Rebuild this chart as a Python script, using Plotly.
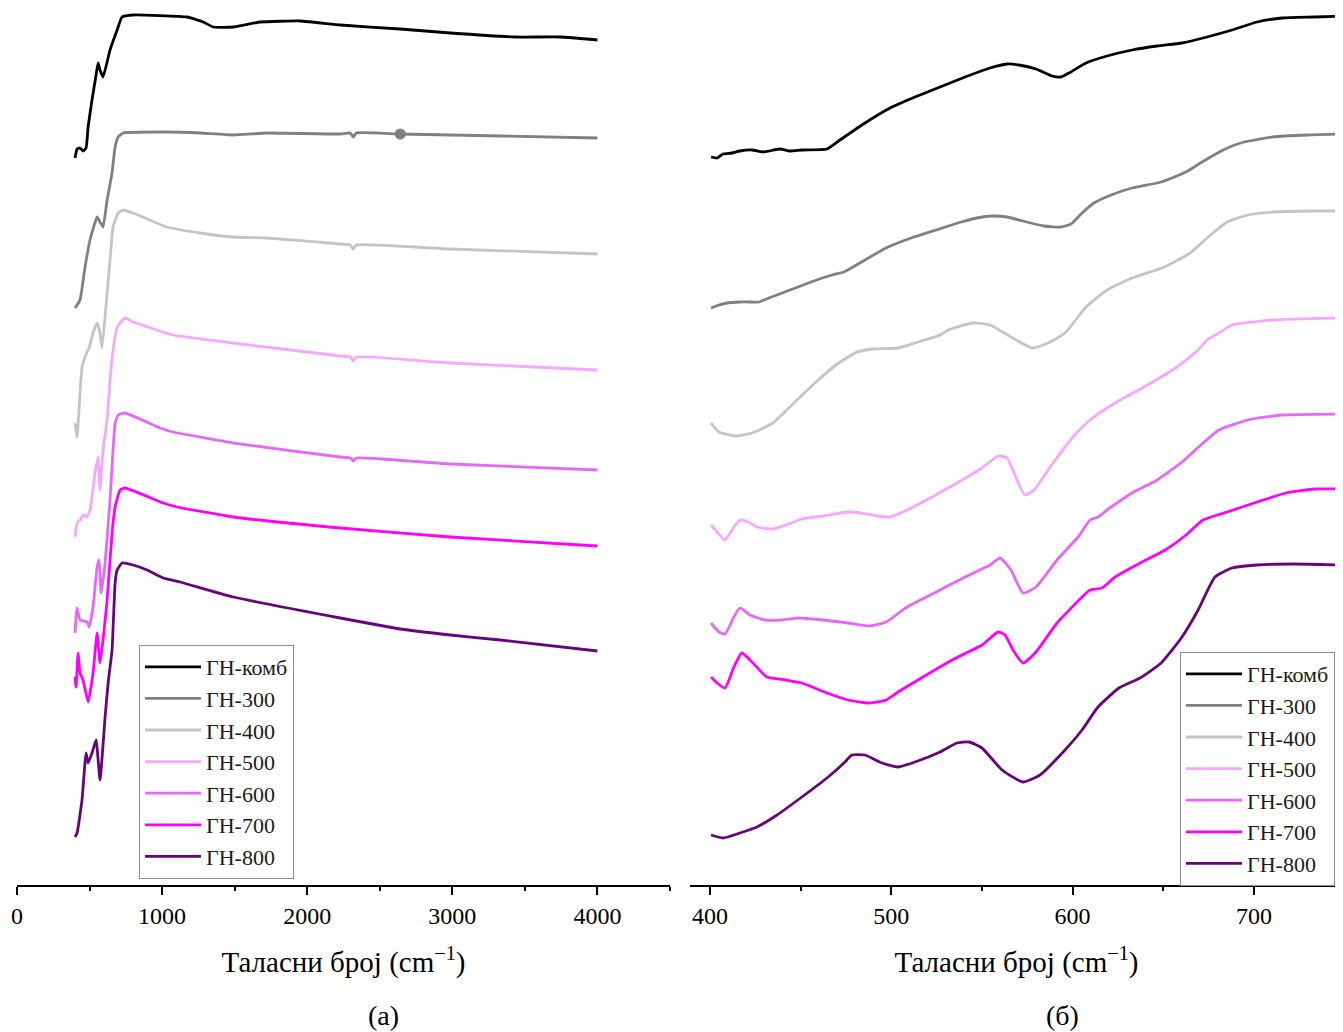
import plotly.graph_objects as go

# ---------------- DATA ----------------
series_names = ["ГН-комб", "ГН-300", "ГН-400", "ГН-500", "ГН-600", "ГН-700", "ГН-800"]

# Panel (a): full range, wavenumber (cm-1) and offset transmittance (a.u.)
wn_a_komb = [400, 414, 434, 455, 476, 490, 517, 545, 559, 572, 593, 641, 690, 724, 800, 1172, 1283, 1352, 1490, 1676, 1952, 2228, 2641, 2986, 3434, 3745, 4000]
tr_a_komb = [727, 736, 737, 734, 737, 758, 785, 810, 822, 815, 808, 835, 855, 868, 870, 868, 863, 858, 858, 863, 864, 860, 856, 852, 848, 848, 845]

wn_a_300 = [400, 434, 469, 503, 552, 572, 593, 621, 655, 676, 697, 731, 1034, 1262, 1490, 1724, 2228, 2297, 2317, 2338, 2641, 3331, 4000]
tr_a_300 = [577, 585, 618, 645, 668, 663, 658, 685, 712, 738, 748, 752, 753, 752, 750, 752, 751, 752, 748, 752, 751, 749, 747]

wn_a_400 = [400, 414, 448, 483, 497, 524, 552, 572, 586, 621, 641, 662, 697, 731, 800, 1034, 1262, 1490, 1724, 2228, 2297, 2317, 2338, 2986, 4000]
tr_a_400 = [462, 448, 518, 533, 537, 552, 562, 552, 537, 592, 625, 658, 672, 675, 672, 658, 652, 648, 647, 641, 640, 636, 640, 636, 631]

wn_a_500 = [400, 414, 434, 455, 483, 503, 538, 559, 572, 593, 621, 641, 662, 690, 745, 800, 1076, 1490, 2228, 2297, 2317, 2338, 2986, 4000]
tr_a_500 = [348, 362, 365, 370, 368, 375, 412, 428, 395, 435, 465, 505, 535, 558, 567, 563, 550, 542, 529, 528, 524, 528, 522, 515]

wn_a_600 = [400, 414, 434, 483, 497, 524, 552, 566, 579, 607, 641, 676, 697, 745, 986, 1076, 1490, 2228, 2297, 2317, 2338, 2986, 4000]
tr_a_600 = [252, 277, 265, 263, 258, 278, 318, 325, 292, 322, 385, 462, 470, 472, 457, 453, 442, 428, 427, 424, 427, 421, 415]

wn_a_700 = [400, 407, 421, 434, 455, 490, 524, 552, 572, 593, 621, 655, 676, 710, 745, 1007, 1103, 1490, 2228, 2986, 4000]
tr_a_700 = [208, 198, 232, 212, 205, 183, 212, 252, 222, 245, 285, 352, 378, 395, 397, 382, 378, 368, 357, 348, 339]

wn_a_800 = [400, 414, 448, 476, 490, 517, 545, 572, 607, 628, 655, 676, 690, 724, 800, 897, 1007, 1124, 1490, 2228, 2641, 2986, 3331, 4000]
tr_a_800 = [48, 52, 85, 132, 122, 132, 145, 105, 168, 202, 235, 302, 315, 322, 320, 315, 307, 303, 288, 267, 256, 250, 245, 234]

# single plotted point visible on the ГН-300 trace in panel (a)
wn_a_300_point = [2641]
tr_a_300_point = [751]

# Panel (б): 400-750 cm-1 region
wn_b_komb = [400.6, 403.9, 407.2, 412.1, 416.5, 423.2, 429.2, 438.6, 444.1, 450.7, 464.5, 471.7, 485.5, 499.3, 513.1, 526.9, 540.7, 554.4, 563.8, 570.4, 579.8, 588.6, 593.6, 598.0, 607.4, 619.0, 632.8, 646.6, 660.3, 674.1, 687.9, 701.7, 715.5, 733.7, 749.1]
tr_b_komb = [728, 727, 731, 732, 734, 735, 733, 736, 734, 735, 736, 745, 762, 777, 788, 798, 808, 817, 821, 820, 816, 809, 808, 812, 822, 829, 835, 839, 842, 848, 855, 863, 867, 868, 869]

wn_b_300 = [400.6, 405.0, 409.4, 416.5, 423.2, 427.0, 432.5, 444.1, 455.7, 467.3, 473.9, 485.5, 497.1, 510.9, 524.7, 538.5, 550.0, 556.6, 563.8, 572.6, 584.2, 593.6, 599.1, 605.2, 611.8, 621.2, 632.8, 648.8, 662.5, 671.4, 683.0, 694.5, 710.5, 729.3, 749.1]
tr_b_300 = [577, 580, 582, 583, 583, 583, 587, 595, 603, 610, 613, 625, 637, 647, 655, 663, 668, 669, 668, 664, 659, 658, 661, 672, 682, 690, 697, 703, 713, 723, 735, 743, 748, 750, 751]

wn_b_400 = [400.6, 405.0, 414.3, 423.2, 434.7, 446.3, 457.9, 469.5, 481.1, 489.9, 503.7, 513.1, 526.9, 531.3, 545.1, 554.4, 566.0, 577.6, 586.4, 595.8, 607.4, 619.0, 632.8, 650.6, 664.8, 674.1, 685.2, 696.7, 710.5, 733.7, 749.1]
tr_b_400 = [462, 453, 449, 452, 462, 482, 502, 520, 533, 536, 537, 542, 550, 555, 562, 560, 548, 537, 542, 552, 578, 595, 607, 618, 632, 647, 663, 670, 673, 674, 674]

wn_b_500 = [400.6, 403.9, 408.3, 412.1, 416.5, 421.0, 425.9, 434.7, 441.9, 450.7, 462.3, 476.1, 483.3, 492.1, 499.3, 508.7, 522.4, 536.2, 550.0, 558.9, 563.8, 569.3, 573.7, 578.7, 589.2, 600.2, 609.6, 623.4, 639.4, 657.6, 669.2, 674.1, 680.7, 687.9, 710.5, 749.1]
tr_b_500 = [360, 353, 345, 355, 365, 363, 358, 356, 360, 366, 369, 373, 372, 369, 368, 375, 388, 402, 417, 429, 427, 405, 390, 395, 422, 448, 465, 482, 498, 518, 535, 545, 552, 560, 565, 567]

wn_b_600 = [400.6, 405.0, 408.3, 413.2, 416.5, 422.1, 430.3, 439.7, 448.5, 462.3, 476.1, 487.7, 497.1, 508.7, 524.7, 540.7, 554.4, 560.0, 566.0, 572.6, 579.8, 591.4, 603.0, 609.6, 614.0, 619.0, 632.8, 646.6, 660.3, 671.9, 680.7, 696.7, 715.5, 749.1]
tr_b_600 = [262, 253, 251, 268, 277, 270, 265, 265, 267, 265, 262, 259, 263, 278, 293, 308, 320, 327, 315, 292, 298, 325, 348, 365, 368, 375, 392, 405, 423, 442, 455, 465, 470, 471]

wn_b_700 = [400.6, 403.9, 408.3, 413.2, 417.6, 423.2, 431.4, 441.9, 450.7, 464.5, 476.1, 487.7, 497.1, 503.7, 517.5, 533.5, 550.0, 558.9, 562.7, 567.1, 572.6, 579.8, 591.4, 605.2, 609.6, 616.2, 623.4, 637.2, 651.0, 662.5, 671.9, 685.2, 701.7, 717.7, 733.7, 749.1]
tr_b_700 = [208, 202, 197, 218, 232, 223, 208, 205, 202, 192, 185, 182, 185, 193, 208, 225, 240, 253, 250, 235, 222, 233, 262, 288, 295, 297, 308, 322, 335, 350, 365, 373, 383, 392, 396, 396]

wn_b_800 = [400.6, 407.2, 416.5, 425.9, 437.0, 450.7, 464.5, 473.9, 478.3, 485.5, 494.9, 503.7, 513.1, 526.9, 536.2, 542.9, 550.0, 561.1, 572.6, 582.0, 595.8, 605.2, 614.0, 625.6, 637.2, 648.8, 660.3, 669.2, 678.5, 687.9, 701.7, 722.1, 749.1]
tr_b_800 = [50, 47, 52, 58, 70, 88, 107, 122, 130, 130, 122, 118, 123, 133, 142, 143, 137, 115, 103, 110, 135, 155, 178, 197, 207, 222, 248, 275, 308, 317, 320, 321, 320]

# x-axis tick values
ticks_a = [0, 1000, 2000, 3000, 4000]
ticks_b = [400, 500, 600, 700]

# ---------------- STYLE / LAYOUT ----------------
colors = ["#000000", "#808080", "#c4c4c4", "#f4a8ff", "#e36af5", "#ff00ff", "#66057a"]
FONT = "Liberation Serif, Times New Roman, serif"
LW = 2.8

# the page adds an 8 px body margin, so the figure is drawn 8 px in from the corner
OFF = 8
W, H = 1343 - OFF, 1032 - OFF


def px(x):
    return (x - OFF) / W


def py(y):
    return 1 - (y - OFF) / H


panel_a = [(wn_a_komb, tr_a_komb), (wn_a_300, tr_a_300), (wn_a_400, tr_a_400), (wn_a_500, tr_a_500),
           (wn_a_600, tr_a_600), (wn_a_700, tr_a_700), (wn_a_800, tr_a_800)]
panel_b = [(wn_b_komb, tr_b_komb), (wn_b_300, tr_b_300), (wn_b_400, tr_b_400), (wn_b_500, tr_b_500),
           (wn_b_600, tr_b_600), (wn_b_700, tr_b_700), (wn_b_800, tr_b_800)]

fig = go.Figure()
for name, col, (x, y) in zip(series_names, colors, panel_a):
    fig.add_trace(go.Scatter(x=x, y=y, mode="lines", name=name, legend="legend",
                             line=dict(color=col, width=LW, shape="spline", smoothing=0.4),
                             xaxis="x", yaxis="y"))
fig.add_trace(go.Scatter(x=wn_a_300_point, y=tr_a_300_point, mode="markers", showlegend=False,
                         marker=dict(color=colors[1], size=11), xaxis="x", yaxis="y"))
for name, col, (x, y) in zip(series_names, colors, panel_b):
    fig.add_trace(go.Scatter(x=x, y=y, mode="lines", name=name, legend="legend2",
                             line=dict(color=col, width=LW, shape="spline", smoothing=0.5),
                             xaxis="x2", yaxis="y2"))

AXIS_Y = 885  # reference pixel row of the x axes
ydom = [py(AXIS_Y), 1.0]
axis_common = dict(
    showline=True, linecolor="black", linewidth=2, mirror=False,
    ticks="outside", ticklen=8, tickwidth=2, tickcolor="black",
    showgrid=False, zeroline=False,
    tickfont=dict(family=FONT, size=24, color="black"),
    title=dict(text="Таласни број (cm<sup>−1</sup>)", font=dict(family=FONT, size=29, color="black"), standoff=24),
    automargin=False,
)
legend_common = dict(
    bgcolor="white", bordercolor="#8c8c8c", borderwidth=1,
    font=dict(family=FONT, size=22, color="#1a1a1a"),
    xanchor="left", yanchor="top", itemwidth=56, tracegroupgap=0,
)

fig.update_layout(
    width=W, height=H,
    margin=dict(l=0, r=0, t=0, b=0),
    paper_bgcolor="white", plot_bgcolor="white",
    xaxis=dict(domain=[px(17), px(670)], range=[0, 4500], anchor="y",
               tickmode="array", tickvals=ticks_a,
               minor=dict(dtick=500, tick0=0, ticks="outside", ticklen=4, tickwidth=2, tickcolor="black"),
               **axis_common),
    yaxis=dict(domain=ydom, range=[0, AXIS_Y - OFF], visible=False, anchor="x"),
    xaxis2=dict(domain=[px(690), 1.0], range=[389, 749.1], anchor="y2",
                tickmode="array", tickvals=ticks_b,
                minor=dict(dtick=50, tick0=400, ticks="outside", ticklen=4, tickwidth=2, tickcolor="black"),
                **axis_common),
    yaxis2=dict(domain=ydom, range=[0, AXIS_Y - OFF], visible=False, anchor="x2"),
    legend=dict(x=px(139), y=py(645), **legend_common),
    legend2=dict(x=px(1180), y=py(652), **legend_common),
    showlegend=True,
    annotations=[
        dict(text="(a)", x=px(384), y=py(1015), xref="paper", yref="paper", showarrow=False,
             font=dict(family=FONT, size=28, color="black"), xanchor="center", yanchor="middle"),
        dict(text="(б)", x=px(1062), y=py(1015), xref="paper", yref="paper", showarrow=False,
             font=dict(family=FONT, size=28, color="black"), xanchor="center", yanchor="middle"),
    ],
)

fig.write_html("out.html")
